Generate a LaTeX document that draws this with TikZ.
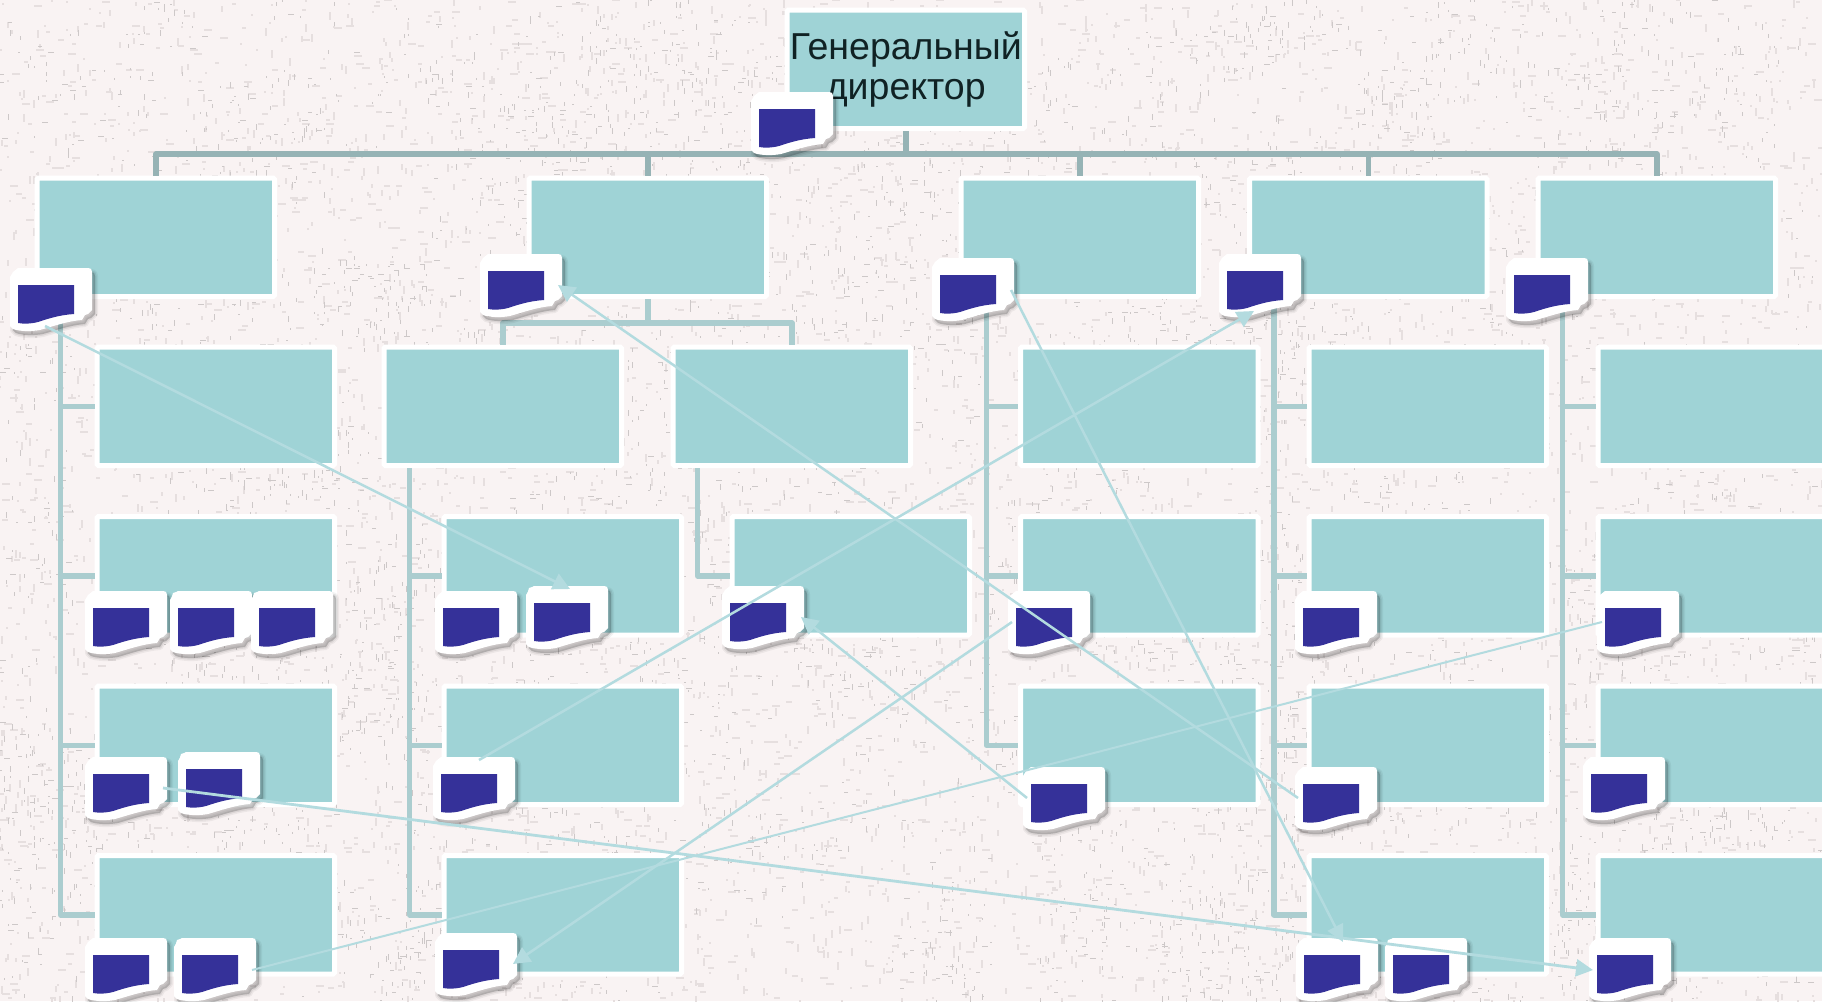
\documentclass[tikz,border=0pt]{standalone}
\usepackage{fontspec}
\setmainfont{Liberation Sans}
\usetikzlibrary{arrows.meta}
\definecolor{bgbase}{HTML}{F9F3F3}
\definecolor{bgmid}{HTML}{E6DFDF}
\definecolor{bgdark}{HTML}{CDC8C8}
\definecolor{teal}{HTML}{9FD3D6}
\definecolor{topbus}{HTML}{96B3B5}
\definecolor{lowbus}{HTML}{ABCDCF}
\definecolor{arrowc}{HTML}{B3DBDF}
\definecolor{notec}{HTML}{353199}
\definecolor{inkc}{HTML}{102224}
\tikzset{
  x=1pt,y=-1pt,
  orgbox/.style={draw=white,line width=5pt,fill=teal,rounded corners=1.5pt,inner sep=0pt,
    minimum width=237.5pt,minimum height=118.5pt,anchor=north west,text=inkc,align=center,
    font=\fontsize{37.5}{40}\selectfont},
  topline/.style={draw=topbus,line width=5.5pt,line join=round},
  lowline/.style={draw=lowbus,line width=5.5pt,line join=round},
  link/.style={draw=arrowc,line width=2.5pt},
  linkhead/.style={link,-{Triangle[length=17pt,width=17pt]}},
}
% a comment mark: white sheet with soft shadow and a blue flag
\newcommand{\notesheet}{(8,0) -- (78,0) .. controls (81,0) and (82,1) .. (82,4) -- (82,42)
  -- (78,46) -- (75,47) -- (72,52) .. controls (58,53) and (44,58) .. (30,62)
  .. controls (20,64) and (8,63) .. (3,61) -- (0,58) -- (0,9) -- (3,4) -- cycle}
\newcommand{\notemark}[3]{%
  \coordinate (#1) at (#2,#3);
  \begin{scope}[shift={(#1)}]
    \begin{scope}[shift={(3,4)}]
      \fill[black,opacity=.05,draw=black,line width=6pt,line join=round] \notesheet;
      \fill[black,opacity=.07,draw=black,line width=3pt,line join=round] \notesheet;
      \fill[black,opacity=.08] \notesheet;
    \end{scope}
    \fill[white] \notesheet;
    \fill[notec] (8,17) -- (64,17) -- (64,46) .. controls (50,47) and (40,50) .. (28,54)
      .. controls (20,56) and (14,56) .. (8,55) -- cycle;
  \end{scope}}
\newcommand{\notestack}[3]{%
  \notemark{#1}{#2}{#3}%
  \fill[white,shift={(#1)}] (3,2) -- (9,0) -- (9,9) -- (1,9) -- cycle;}
\newcommand{\orgbox}[3]{\node[orgbox] (#1) at (#2-4.5,#3-4.5) {};}
\pgfmathsetseed{1729}
\begin{document}
\begin{tikzpicture}
\useasboundingbox (0,0) rectangle (1822,1001);
\clip (0,0) rectangle (1822,1001);
\fill[bgbase] (0,0) rectangle (1822,1001);
% paper texture: even grain
\foreach \i in {1,...,7500}{
  \pgfmathrandominteger{\rx}{0}{911}\pgfmathrandominteger{\ry}{0}{500}
  \pgfmathrandominteger{\rl}{1}{4}
  \pgfmathrandominteger{\rd}{0}{1}
  \ifnum\rd=0
    \draw[bgmid,line width=1.3pt] (2*\rx,2*\ry) -- ++(2*\rl,0);
  \else
    \draw[bgmid,line width=1.3pt] (2*\rx,2*\ry) -- ++(0,2*\rl);
  \fi
}
% darker grain gathered in patches
\foreach \c in {1,...,420}{
  \pgfmathrandominteger{\cx}{0}{911}\pgfmathrandominteger{\cy}{0}{500}
  \foreach \i in {1,...,14}{
    \pgfmathrandominteger{\rx}{-22}{22}\pgfmathrandominteger{\ry}{-22}{22}
    \pgfmathrandominteger{\rl}{1}{3}
    \pgfmathrandominteger{\rd}{0}{2}
    \ifnum\rd=0
      \draw[bgdark,line width=1pt] ({2*(\cx+\rx)},{2*(\cy+\ry)}) -- ++(2*\rl,0);
    \else
      \draw[bgdark,line width=1pt] ({2*(\cx+\rx)},{2*(\cy+\ry)}) -- ++(0,2*\rl);
    \fi
  }
}
% boxes
\node[orgbox] (top) at (784.5,7.5) {Генеральный\\директор};
\orgbox{la}{39}{180}\orgbox{lb}{531}{180}\orgbox{lc}{963}{180}\orgbox{ld}{1251.5}{180}\orgbox{le}{1540}{180}
\orgbox{a1}{99}{349}\orgbox{a2}{99}{518.5}\orgbox{a3}{99}{688}\orgbox{a4}{99}{857.5}
\orgbox{bl}{386}{349}\orgbox{br}{675}{349}
\orgbox{b2}{446}{518.5}\orgbox{b3}{446}{688}\orgbox{b4}{446}{857.5}\orgbox{bs}{734}{518.5}
\orgbox{c1}{1022.5}{349}\orgbox{c2}{1022.5}{518.5}\orgbox{c3}{1022.5}{688}
\orgbox{d1}{1311}{349}\orgbox{d2}{1311}{518.5}\orgbox{d3}{1311}{688}\orgbox{d4}{1311}{857.5}
\orgbox{e1}{1600}{349}\orgbox{e2}{1600}{518.5}\orgbox{e3}{1600}{688}\orgbox{e4}{1600}{857.5}
% top tree
\foreach \t in {la,lb,lc,ld,le}
  \draw[topline] (top.south) -- ++(0,23) -| (\t.north);
% second tree
\foreach \t in {bl,br}
  \draw[lowline] (lb.south) -- ++(0,24) -| (\t.north);
% spines
\foreach \t in {a1,a2,a3,a4}
  \draw[lowline] ([xshift=26pt]la.south west) |- (\t.west);
\foreach \t in {b2,b3,b4}
  \draw[lowline] ([xshift=28pt]bl.south west) |- (\t.west);
\draw[lowline] ([xshift=27pt]br.south west) |- (bs.west);
\foreach \t in {c1,c2,c3}
  \draw[lowline] ([xshift=28pt]lc.south west) |- (\t.west);
\foreach \t in {d1,d2,d3,d4}
  \draw[lowline] ([xshift=27pt]ld.south west) |- (\t.west);
\foreach \t in {e1,e2,e3,e4}
  \draw[lowline] ([xshift=27pt]le.south west) |- (\t.west);
% comment marks
\notemark{ntop}{751}{92}
\notemark{nla}{10}{268}\notemark{nlb}{480}{254}\notemark{nlc}{932}{258}\notemark{nld}{1219}{254}\notemark{nle}{1506}{258}
\notemark{na2x}{85}{591}\notestack{na2y}{170}{591}\notestack{na2z}{251}{591}
\notemark{nb2x}{435}{591}\notestack{nb2y}{526}{586}\notemark{nbs}{722}{586}
\notemark{nc2}{1008}{591}\notemark{nd2}{1295}{591}\notemark{ne2}{1597}{591}
\notemark{na3x}{85}{757}\notestack{na3y}{178}{752}
\notemark{nb3}{433}{757}\notemark{nc3}{1023}{767}\notemark{nd3}{1295}{767}\notemark{ne3}{1583}{757}
\notemark{na4x}{85}{938}\notestack{na4y}{174}{938}
\notemark{nb4}{435}{933}\notemark{nd4x}{1296}{938}\notestack{nd4y}{1385}{938}\notemark{ne4}{1589}{938}
% links between comment marks
\draw[linkhead] ([shift={(35,58)}]nla) -- ([shift={(44,3)}]nb2y);
\draw[linkhead] ([shift={(3,31)}]nd3) -- ([shift={(78,31)}]nlb);
\draw[linkhead] ([shift={(46,3)}]nb3) -- ([shift={(35,57)}]nld);
\draw[linkhead] ([shift={(79,32)}]nlc) -- ([shift={(47,4)}]nd4x);
\draw[linkhead] ([shift={(4,31)}]nc2) -- ([shift={(78,31)}]nb4);
\draw[linkhead] ([shift={(4,31)}]nc3) -- ([shift={(79,31)}]nbs);
\draw[link,line width=2pt] ([shift={(5,31)}]ne2) -- ([shift={(78,32)}]na4y);
\draw[linkhead,line width=2.8pt] ([shift={(78,31)}]na3x) -- ([shift={(4,32)}]ne4);
\end{tikzpicture}
\end{document}
